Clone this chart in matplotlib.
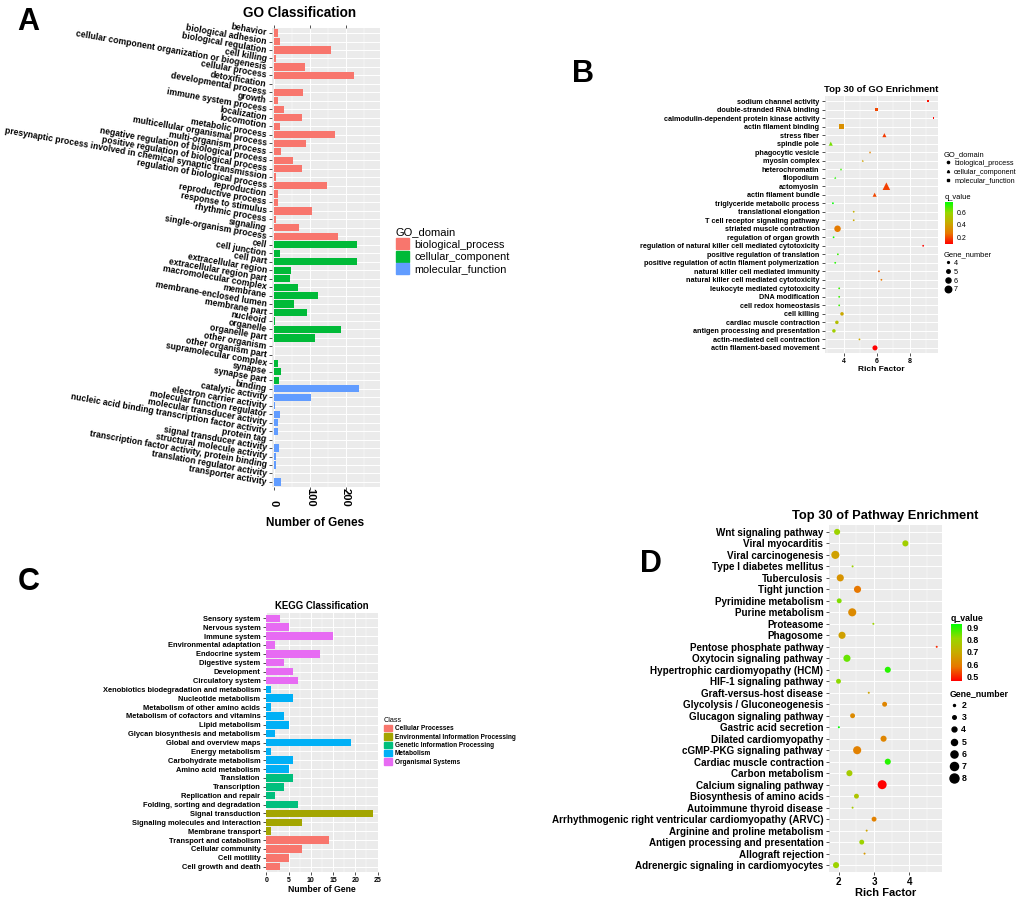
import numpy as np
import matplotlib.pyplot as plt
from matplotlib.colors import LinearSegmentedColormap, Normalize
from matplotlib.cm import ScalarMappable
from matplotlib.patches import Patch
from matplotlib.lines import Line2D
from matplotlib.ticker import MultipleLocator

plt.rcParams['font.family'] = ['Liberation Sans', 'DejaVu Sans']

# ---------------- A: GO classification ----------------
bp_terms = ['behavior', 'biological adhesion', 'biological regulation', 'cell killing',
            'cellular component organization or biogenesis', 'cellular process', 'detoxification',
            'developmental process', 'growth', 'immune system process', 'localization', 'locomotion',
            'metabolic process', 'multicellular organismal process', 'multi-organism process',
            'negative regulation of biological process', 'positive regulation of biological process',
            'presynaptic process involved in chemical synaptic transmission',
            'regulation of biological process', 'reproduction', 'reproductive process',
            'response to stimulus', 'rhythmic process', 'signaling', 'single-organism process']
bp_counts = [11, 17, 159, 6, 86, 222, 1, 81, 11, 28, 77, 18, 170, 90, 20, 52, 78, 5, 148,
             11, 11, 107, 5, 69, 178]
cc_terms = ['cell', 'cell junction', 'cell part', 'extracellular region', 'extracellular region part',
            'macromolecular complex', 'membrane', 'membrane-enclosed lumen', 'membrane part',
            'nucleoid', 'organelle', 'organelle part', 'other organism', 'other organism part',
            'supramolecular complex', 'synapse', 'synapse part']
cc_counts = [232, 17, 230, 47, 46, 68, 123, 55, 91, 2, 186, 114, 1, 1, 11, 20, 14]
mf_terms = ['binding', 'catalytic activity', 'electron carrier activity', 'molecular function regulator',
            'molecular transducer activity', 'nucleic acid binding transcription factor activity',
            'protein tag', 'signal transducer activity', 'structural molecule activity',
            'transcription factor activity, protein binding', 'translation regulator activity',
            'transporter activity']
mf_counts = [237, 102, 2, 17, 12, 12, 1, 15, 5, 7, 1, 21]
go_domains = ['biological_process', 'cellular_component', 'molecular_function']
go_colors = ['#F8766D', '#00BA38', '#619CFF']

# ---------------- B: GO enrichment ----------------
b_terms = ['sodium channel activity', 'double-stranded RNA binding',
           'calmodulin-dependent protein kinase activity', 'actin filament binding',
           'stress fiber', 'spindle pole', 'phagocytic vesicle', 'myosin complex',
           'heterochromatin', 'filopodium', 'actomyosin', 'actin filament bundle',
           'triglyceride metabolic process', 'translational elongation',
           'T cell receptor signaling pathway', 'striated muscle contraction',
           'regulation of organ growth', 'regulation of natural killer cell mediated cytotoxicity',
           'positive regulation of translation', 'positive regulation of actin filament polymerization',
           'natural killer cell mediated immunity', 'natural killer cell mediated cytotoxicity',
           'leukocyte mediated cytotoxicity', 'DNA modification', 'cell redox homeostasis',
           'cell killing', 'cardiac muscle contraction', 'antigen processing and presentation',
           'actin-mediated cell contraction', 'actin filament-based movement']
b_domain = ['MF', 'MF', 'MF', 'MF', 'CC', 'CC', 'CC', 'CC', 'CC', 'CC', 'CC', 'CC',
            'BP', 'BP', 'BP', 'BP', 'BP', 'BP', 'BP', 'BP', 'BP', 'BP', 'BP', 'BP', 'BP',
            'BP', 'BP', 'BP', 'BP', 'BP']
b_rich = [9.12, 5.98, 9.45, 3.88, 6.47, 3.22, 5.60, 5.16, 3.84, 3.49, 6.59, 5.88, 3.35, 4.61,
          4.61, 3.63, 3.39, 8.82, 3.65, 3.49, 6.14, 6.29, 3.73, 3.73, 3.73, 3.90, 3.59, 3.41,
          4.96, 5.90]
b_genes = [4, 5, 4, 6, 5, 5, 4, 4, 4, 4, 7, 5, 4, 4, 4, 7, 4, 4, 4, 4, 4, 4, 4, 4, 4, 5, 5, 5, 4, 6]
b_q = [0.12, 0.20, 0.10, 0.34, 0.18, 0.63, 0.30, 0.40, 0.70, 0.72, 0.19, 0.20, 0.76, 0.45,
       0.42, 0.28, 0.74, 0.11, 0.70, 0.72, 0.22, 0.27, 0.70, 0.70, 0.70, 0.42, 0.50, 0.56,
       0.42, 0.10]

# ---------------- C: KEGG classification ----------------
os_terms = ['Sensory system', 'Nervous system', 'Immune system', 'Environmental adaptation',
            'Endocrine system', 'Digestive system', 'Development', 'Circulatory system']
os_counts = [3, 5, 15, 2, 12, 4, 6, 7]
met_terms = ['Xenobiotics biodegradation and metabolism', 'Nucleotide metabolism',
             'Metabolism of other amino acids', 'Metabolism of cofactors and vitamins',
             'Lipid metabolism', 'Glycan biosynthesis and metabolism', 'Global and overview maps',
             'Energy metabolism', 'Carbohydrate metabolism', 'Amino acid metabolism']
met_counts = [1, 6, 1, 4, 5, 2, 19, 1, 6, 5]
gip_terms = ['Translation', 'Transcription', 'Replication and repair', 'Folding, sorting and degradation']
gip_counts = [6, 4, 2, 7]
eip_terms = ['Signal transduction', 'Signaling molecules and interaction', 'Membrane transport']
eip_counts = [24, 8, 1]
cp_terms = ['Transport and catabolism', 'Cellular community', 'Cell motility', 'Cell growth and death']
cp_counts = [14, 8, 5, 3]
kegg_classes = ['Cellular Processes', 'Environmental Information Processing',
                'Genetic Information Processing', 'Metabolism', 'Organismal Systems']
kegg_colors = ['#F8766D', '#A3A500', '#00BF7D', '#00B0F6', '#E76BF3']

# ---------------- D: pathway enrichment ----------------
d_terms = ['Wnt signaling pathway', 'Viral myocarditis', 'Viral carcinogenesis',
           'Type I diabetes mellitus', 'Tuberculosis', 'Tight junction', 'Pyrimidine metabolism',
           'Purine metabolism', 'Proteasome', 'Phagosome', 'Pentose phosphate pathway',
           'Oxytocin signaling pathway', 'Hypertrophic cardiomyopathy (HCM)',
           'HIF-1 signaling pathway', 'Graft-versus-host disease', 'Glycolysis / Gluconeogenesis',
           'Glucagon signaling pathway', 'Gastric acid secretion', 'Dilated cardiomyopathy',
           'cGMP-PKG signaling pathway', 'Cardiac muscle contraction', 'Carbon metabolism',
           'Calcium signaling pathway', 'Biosynthesis of amino acids', 'Autoimmune thyroid disease',
           'Arrhythmogenic right ventricular cardiomyopathy (ARVC)',
           'Arginine and proline metabolism', 'Antigen processing and presentation',
           'Allograft rejection', 'Adrenergic signaling in cardiomyocytes']
d_rich = [1.95, 3.89, 1.90, 2.39, 2.04, 2.53, 2.01, 2.38, 2.98, 2.09, 4.78, 2.23, 3.39, 1.99,
          2.85, 3.30, 2.39, 2.00, 3.27, 2.52, 3.39, 2.30, 3.23, 2.50, 2.39, 3.00, 2.79, 2.65,
          2.73, 1.92]
d_genes = [5, 5, 7, 2, 6, 6, 4, 7, 2, 6, 2, 6, 5, 4, 2, 4, 4, 2, 5, 7, 5, 5, 8, 4, 2, 4, 2, 4, 2, 5]
d_q = [0.80, 0.79, 0.67, 0.80, 0.64, 0.58, 0.83, 0.62, 0.80, 0.67, 0.50, 0.85, 0.90, 0.82,
       0.68, 0.61, 0.62, 0.93, 0.61, 0.60, 0.90, 0.78, 0.46, 0.76, 0.78, 0.60, 0.68, 0.80,
       0.65, 0.80]

# red -> green gradient (ggplot style, interpolated in Lab)
rg_cmap = LinearSegmentedColormap.from_list('rg', ['#FF0000', '#E87700', '#C8AB00', '#98D700', '#00FF00'])

W, H = 1020, 897
fig = plt.figure(figsize=(W / 100, H / 100), dpi=100)


def px_axes(x0, y0, x1, y1):
    return fig.add_axes([x0 / W, 1 - y1 / H, (x1 - x0) / W, (y1 - y0) / H])


def gg_style(ax, labels, xmajor, xminor, fs_y):
    n = len(labels)
    ax.set_facecolor('#EBEBEB')
    for s in ax.spines.values():
        s.set_visible(False)
    ax.set_axisbelow(True)
    ax.xaxis.set_major_locator(MultipleLocator(xmajor))
    ax.xaxis.set_minor_locator(MultipleLocator(xminor))
    ax.grid(which='major', color='white', lw=0.7)
    ax.grid(which='minor', axis='x', color='white', lw=0.35)
    ax.set_yticks(np.arange(n))
    ax.set_yticklabels(labels, fontsize=fs_y, fontweight='bold')
    ax.set_ylim(n - 0.4, -0.6)
    ax.tick_params(which='major', length=2.5, width=0.6, color='#333333', pad=1.5)
    ax.tick_params(which='minor', length=0)


def dot_area(n, nmin, nmax, dmin, dmax):
    r = (np.sqrt(n) - np.sqrt(nmin)) / (np.sqrt(nmax) - np.sqrt(nmin))
    return ((dmin + r * (dmax - dmin)) * 0.72) ** 2


def dot_diam(n, nmin, nmax, dmin, dmax):
    return np.sqrt(dot_area(n, nmin, nmax, dmin, dmax))


# ===== Panel A =====
axA = px_axes(272, 28, 380, 487)
go_terms = bp_terms + cc_terms + mf_terms
go_counts = bp_counts + cc_counts + mf_counts
go_bar_colors = ([go_colors[0]] * len(bp_terms) + [go_colors[1]] * len(cc_terms)
                 + [go_colors[2]] * len(mf_terms))
axA.barh(np.arange(len(go_terms)), go_counts, height=0.85, color=go_bar_colors)
gg_style(axA, go_terms, 100, 50, 6.2)
axA.set_xlim(-5, 295)
for t in axA.get_yticklabels():
    t.set_rotation(-10)
    t.set_rotation_mode('anchor')
    t.set_ha('right')
    t.set_va('center')
axA.tick_params(axis='x', labelrotation=270, pad=11.5, labelsize=8, top=True)
for t in axA.get_xticklabels():
    t.set_va('bottom')
    t.set_fontweight('bold')
axA.set_xlabel('Number of Genes', fontsize=8.5, fontweight='bold', labelpad=3)
axA.xaxis.set_label_coords((315 - 272) / 108, -0.065)
axA.set_title('GO Classification', fontsize=9.8, fontweight='bold', x=(300 - 272) / 108, pad=8)
axA.legend([Patch(color=c) for c in go_colors], go_domains, title='GO_domain',
           loc='upper left', bbox_to_anchor=(396 / W, 1 - 227 / H), bbox_transform=fig.transFigure,
           frameon=False, fontsize=7.8, title_fontsize=8, alignment='left',
           handlelength=1.2, handleheight=1.2, labelspacing=0.12, handletextpad=0.5,
           borderpad=0, borderaxespad=0)

# ===== Panel B =====
axB = px_axes(825, 96, 938, 353)
yb = np.arange(len(b_terms))
normB = Normalize(vmin=min(b_q), vmax=max(b_q))
b_markers = {'BP': 'o', 'CC': '^', 'MF': 's'}
b_scale = {'BP': 1.0, 'CC': 1.35, 'MF': 1.0}
for dom, mk in b_markers.items():
    m = np.array([d == dom for d in b_domain])
    axB.scatter(np.array(b_rich)[m], yb[m],
                s=dot_area(np.array(b_genes)[m], 4, 7, 1.8, 6.5) * b_scale[dom],
                c=np.array(b_q)[m], cmap=rg_cmap, norm=normB, marker=mk, linewidths=0, zorder=3)
gg_style(axB, b_terms, 2, 1, 5.2)
axB.set_xlim(2.87, 9.72)
axB.tick_params(axis='x', labelsize=5, pad=1)
for t in axB.get_xticklabels():
    t.set_fontweight('bold')
axB.set_xlabel('Rich Factor', fontsize=6, fontweight='bold', labelpad=1)
axB.set_title('Top 30 of GO Enrichment', fontsize=6.8, fontweight='bold', pad=3)

legB1 = axB.legend([Line2D([], [], ls='', marker=mk, color='black', markersize=1.6)
                    for mk in ['o', '^', 's']],
                   ['biological_process', 'cellular_component', 'molecular_function'],
                   title='GO_domain', loc='upper left', bbox_to_anchor=(944 / W, 1 - 151 / H),
                   bbox_transform=fig.transFigure, frameon=False, fontsize=5.2, title_fontsize=5.4,
                   alignment='left', handlelength=1.0, labelspacing=0.25, handletextpad=0.4,
                   borderpad=0, borderaxespad=0)
axB.add_artist(legB1)
b_leg_n = [4, 5, 6, 7]
axB.legend([Line2D([], [], ls='', marker='o', color='black',
                   markersize=dot_diam(n, 4, 7, 1.8, 6.5)) for n in b_leg_n],
           [str(n) for n in b_leg_n], title='Gene_number', loc='upper left',
           bbox_to_anchor=(944 / W, 1 - 251 / H), bbox_transform=fig.transFigure, frameon=False,
           fontsize=5.2, title_fontsize=5.4, alignment='left', handlelength=1.0,
           labelspacing=0.25, handletextpad=0.3, borderpad=0, borderaxespad=0)
caxB = px_axes(945, 202, 953, 244)
cbB = fig.colorbar(ScalarMappable(norm=normB, cmap=rg_cmap), cax=caxB, ticks=[0.2, 0.4, 0.6])
cbB.outline.set_visible(False)
caxB.tick_params(length=1.5, color='white', labelsize=5, pad=1.5)
caxB.set_title('q_value', loc='left', fontsize=5.4, pad=2)

# ===== Panel C =====
axC = px_axes(266, 613, 378, 872)
kegg_terms = os_terms + met_terms + gip_terms + eip_terms + cp_terms
kegg_counts = os_counts + met_counts + gip_counts + eip_counts + cp_counts
kegg_bar_colors = ([kegg_colors[4]] * len(os_terms) + [kegg_colors[3]] * len(met_terms)
                   + [kegg_colors[2]] * len(gip_terms) + [kegg_colors[1]] * len(eip_terms)
                   + [kegg_colors[0]] * len(cp_terms))
axC.barh(np.arange(len(kegg_terms)), kegg_counts, height=0.85, color=kegg_bar_colors)
gg_style(axC, kegg_terms, 5, 2.5, 5.4)
axC.set_xlim(-0.1, 25.1)
axC.tick_params(axis='x', labelsize=5, pad=1)
for t in axC.get_xticklabels():
    t.set_fontweight('bold')
axC.set_xlabel('Number of Gene', fontsize=6.2, fontweight='bold', labelpad=1)
axC.set_title('KEGG Classification', fontsize=6.9, fontweight='bold', pad=3)
axC.legend([Patch(color=c) for c in kegg_colors], kegg_classes, title='Class',
           loc='upper left', bbox_to_anchor=(384 / W, 1 - 717 / H), bbox_transform=fig.transFigure,
           frameon=False, prop={'size': 4.7, 'weight': 'bold'}, title_fontsize=5.2,
           alignment='left', handlelength=1.2, handleheight=1.1, labelspacing=0.15,
           handletextpad=0.5, borderpad=0, borderaxespad=0)

# ===== Panel D =====
axD = px_axes(829, 525, 942, 872)
yd = np.arange(len(d_terms))
normD = Normalize(vmin=min(d_q), vmax=max(d_q))
axD.scatter(d_rich, yd, s=dot_area(np.array(d_genes), 2, 8, 2.0, 9.0), c=d_q, cmap=rg_cmap,
            norm=normD, linewidths=0, zorder=3)
gg_style(axD, d_terms, 1, 0.5, 7.1)
axD.set_xlim(1.72, 4.93)
axD.tick_params(axis='x', labelsize=7, pad=1)
for t in axD.get_xticklabels():
    t.set_fontweight('bold')
axD.set_xlabel('Rich Factor', fontsize=8, fontweight='bold', labelpad=1)
axD.set_title('Top 30 of Pathway Enrichment', fontsize=9.3, fontweight='bold', pad=4)
d_leg_n = [2, 3, 4, 5, 6, 7, 8]
axD.legend([Line2D([], [], ls='', marker='o', color='black',
                   markersize=dot_diam(n, 2, 8, 2.0, 9.0)) for n in d_leg_n],
           [str(n) for n in d_leg_n], title='Gene_number', loc='upper left',
           bbox_to_anchor=(950 / W, 1 - 689 / H), bbox_transform=fig.transFigure, frameon=False,
           prop={'size': 6.3, 'weight': 'bold'}, title_fontsize=6.3, alignment='left',
           handlelength=1.0, labelspacing=0.36, handletextpad=0.3, borderpad=0, borderaxespad=0)
axD.get_legend().get_title().set_fontweight('bold')
caxD = px_axes(951, 624, 962, 681)
cbD = fig.colorbar(ScalarMappable(norm=normD, cmap=rg_cmap), cax=caxD,
                   ticks=[0.5, 0.6, 0.7, 0.8, 0.9])
cbD.outline.set_visible(False)
caxD.tick_params(length=2, color='white', labelsize=6.3, pad=1.5)
for t in caxD.get_yticklabels():
    t.set_fontweight('bold')
caxD.set_title('q_value', loc='left', fontsize=6.3, fontweight='bold', pad=2)

# panel letters
for letter, x, y in [('A', 17, 30), ('B', 572, 82), ('C', 18, 590), ('D', 640, 572)]:
    fig.text(x / W, 1 - y / H, letter, fontsize=22, fontweight='bold', ha='left', va='baseline')

fig.savefig('out.png', dpi=100)
